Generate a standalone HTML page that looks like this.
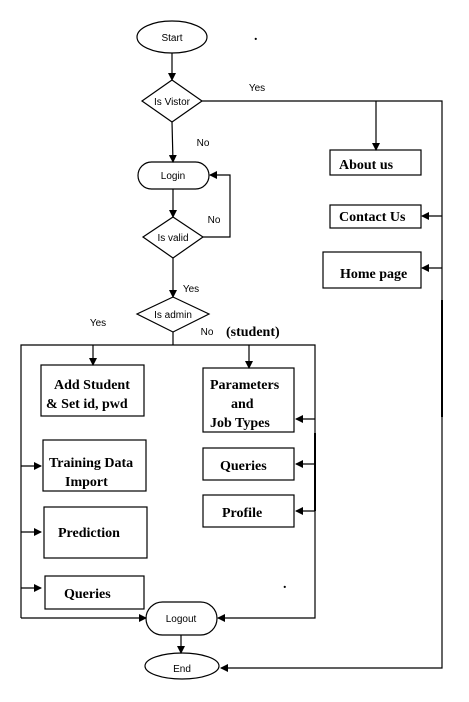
<!DOCTYPE html>
<html><head><style>body{margin:0;background:#fff}svg{display:block}</style></head><body>
<svg width="469" height="702" viewBox="0 0 469 702" xmlns="http://www.w3.org/2000/svg">
<defs><marker id="a" markerWidth="8" markerHeight="8" refX="7" refY="4" orient="auto" markerUnits="userSpaceOnUse"><path d="M0,0 L8,4 L0,8 z" fill="#000"/></marker></defs>
<g fill="none" stroke="#000" stroke-width="1.2">
<ellipse cx="172" cy="37" rx="35" ry="16"/>
<line x1="172" y1="53" x2="172" y2="80" marker-end="url(#a)"/>
<polygon points="172,80 202,101 172,122 142,101"/>
<polyline points="202,101 442,101 442,668 221,668" marker-end="url(#a)"/>
<line x1="442" y1="300" x2="442" y2="417" stroke-width="2"/>
<line x1="376" y1="101" x2="376" y2="150" marker-end="url(#a)"/>
<rect x="330" y="150" width="91" height="25"/>
<rect x="330" y="205" width="91" height="23"/>
<rect x="323" y="252" width="98" height="36"/>
<line x1="442" y1="216" x2="422" y2="216" marker-end="url(#a)"/>
<line x1="442" y1="268" x2="422" y2="268" marker-end="url(#a)"/>
<line x1="172" y1="122" x2="173" y2="162" marker-end="url(#a)"/>
<rect x="138" y="162" width="71" height="27" rx="13.5"/>
<line x1="173" y1="189" x2="173" y2="217" marker-end="url(#a)"/>
<polygon points="173,217 203,237 173,258 143,237"/>
<polyline points="203,237 230,237 230,175 210,175" marker-end="url(#a)"/>
<line x1="173" y1="258" x2="173" y2="297" marker-end="url(#a)"/>
<polygon points="173,297 209,314 173,332 137,314"/>
<line x1="173" y1="332" x2="173" y2="345"/>
<polyline points="21,618 21,345 315,345 315,618 218,618" marker-end="url(#a)"/>
<line x1="21" y1="618" x2="146" y2="618" marker-end="url(#a)"/>
<line x1="315" y1="433" x2="315" y2="511" stroke-width="2"/>
<line x1="93" y1="345" x2="93" y2="365" marker-end="url(#a)"/>
<line x1="249" y1="345" x2="249" y2="368" marker-end="url(#a)"/>
<rect x="41" y="365" width="103" height="51"/>
<rect x="203" y="368" width="91" height="64"/>
<rect x="43" y="440" width="103" height="51"/>
<rect x="44" y="507" width="103" height="51"/>
<rect x="45" y="576" width="99" height="33"/>
<rect x="203" y="448" width="91" height="32"/>
<rect x="203" y="495" width="91" height="32"/>
<line x1="21" y1="466" x2="41" y2="466" marker-end="url(#a)"/>
<line x1="21" y1="532" x2="41" y2="532" marker-end="url(#a)"/>
<line x1="21" y1="588" x2="41" y2="588" marker-end="url(#a)"/>
<line x1="315" y1="419" x2="296" y2="419" marker-end="url(#a)"/>
<line x1="315" y1="464" x2="296" y2="464" marker-end="url(#a)"/>
<line x1="315" y1="511" x2="296" y2="511" marker-end="url(#a)"/>
<rect x="146" y="602" width="71" height="33" rx="16.5"/>
<line x1="181" y1="635" x2="181" y2="653" marker-end="url(#a)"/>
<ellipse cx="182" cy="666" rx="37" ry="13"/>
</g>
<g font-family="Liberation Sans, sans-serif" font-size="10" text-anchor="middle">
<text x="172" y="41">Start</text>
<text x="172" y="105">Is Vistor</text>
<text x="173" y="179">Login</text>
<text x="173" y="241">Is valid</text>
<text x="173" y="318">Is admin</text>
<text x="181" y="622">Logout</text>
<text x="182" y="672">End</text>
<text x="257" y="91">Yes</text>
<text x="203" y="146">No</text>
<text x="214" y="223">No</text>
<text x="191" y="292">Yes</text>
<text x="98" y="326">Yes</text>
<text x="207" y="335">No</text>
</g>
<g font-family="Liberation Serif, serif" font-size="14" font-weight="bold">
<text x="226" y="336">(student)</text>
<text x="339" y="169">About us</text>
<text x="339" y="221">Contact Us</text>
<text x="340" y="278">Home page</text>
<text x="54" y="389">Add Student</text>
<text x="46" y="408">&amp; Set id, pwd</text>
<text x="210" y="389">Parameters</text>
<text x="231" y="408">and</text>
<text x="210" y="427">Job Types</text>
<text x="49" y="467">Training Data</text>
<text x="65" y="486">Import</text>
<text x="58" y="537">Prediction</text>
<text x="64" y="598">Queries</text>
<text x="220" y="470">Queries</text>
<text x="222" y="517">Profile</text>
<text x="254" y="40">.</text>
<text x="283" y="588">.</text>
</g>
</svg>
</body></html>
